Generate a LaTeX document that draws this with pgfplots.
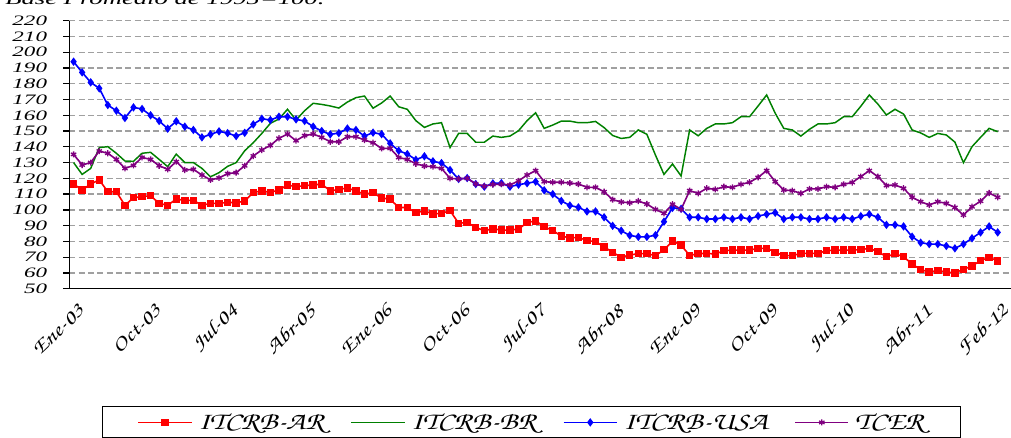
\documentclass[border=0pt]{standalone}
\usepackage{pgfplots}
\pgfplotsset{compat=1.18}
\usepackage{pgfplotstable}
\usepackage{fontspec}
\setmainfont{Liberation Serif}
\newfontfamily\numfont{Liberation Serif}[FakeStretch=1.6]
\newfontfamily\scrfont{texgyrechorus}[Extension=.otf, UprightFont=*-mediumitalic, FakeStretch=1.25]
\definecolor{arred}{RGB}{255,0,0}
\definecolor{brgreen}{RGB}{0,128,0}
\definecolor{usablue}{RGB}{0,0,255}
\definecolor{tcerpurple}{RGB}{128,0,128}
\definecolor{gridgray}{RGB}{160,160,160}

\pgfplotstableread{
i ar br usa tcer
0 116.4 130 194 135.2
1 112.6 122.5 187.2 128.5
2 116.4 126.3 180.9 130
3 119 139.5 177.1 137.3
4 111.5 140.1 166.5 135.9
5 111.5 135.9 162.9 132
6 102.9 131 158.3 126.3
7 107.7 130.8 165 128.2
8 108.4 135.9 164 133.3
9 109 136.5 160 132
10 104.1 132 156.4 128
11 102.9 127.4 151.5 125.7
12 106.9 135.4 156.2 130.6
13 106 130 152.8 125.3
14 106 130 150.7 125.7
15 102.9 126.3 146 122.1
16 104.1 121 147.9 119
17 104.1 123.6 149.8 120.3
18 104.8 127.6 148.7 123
19 104.5 130 146.8 123.6
20 105.6 137.5 148.9 128
21 111.1 142.6 154.2 134.2
22 112 148.5 157.8 138
23 111.1 154.9 157 140.9
24 112.6 157.6 159.1 145.4
25 115.8 163.8 159.1 148.1
26 114.7 157 157.4 143.9
27 115.4 162.9 156.4 147.1
28 115.8 167.6 152.8 148.1
29 116.4 166.9 150 146
30 112 165.9 147.9 143.2
31 113 164.6 148.7 143.2
32 113.9 168.4 151.6 146.4
33 112 171.2 150.7 146.4
34 110 172.2 146.8 144.3
35 110.9 164.5 149 142.6
36 107.5 167.8 148 139
37 106.8 172.2 142.2 139
38 101.5 165.4 137.5 133.2
39 101.5 163.8 135.4 132
40 98.2 156.6 131.8 129.3
41 99.4 152.3 134 127.8
42 97.4 154.5 130.8 127.4
43 97.8 155.3 129.7 126.3
44 99.5 139.5 125.3 120
45 91.5 148.5 119.6 119.6
46 92 148.5 120.2 120
47 88.9 142.9 116.4 116.5
48 86.8 142.9 114.7 115
49 88 146.8 116.8 116.1
50 87.2 146 117 116.3
51 87.2 146.8 114.7 115.8
52 87.8 150.2 116 118.4
53 92 156.6 116.9 122.1
54 93 161.6 117.9 124.9
55 89.3 151.7 112.4 117.9
56 86.9 153.8 110 117.5
57 83.4 156.3 105.7 117.5
58 82.2 156.3 102.8 117
59 82.6 155.3 101.6 116.4
60 80.5 155.3 99 114.3
61 79.9 156.1 99 114.3
62 76.5 152.2 95.3 111.5
63 73.1 147.2 89.9 106.5
64 69.9 145.3 86.8 105
65 71.4 146 83.8 104.5
66 72.2 150.7 82.9 105.6
67 72.2 147.9 82.9 103.7
68 71 134.8 83.9 100.3
69 74.7 122.5 92.5 97.8
70 80.2 129.1 101.3 103.6
71 77.7 121.5 100.7 100.3
72 71 150.7 95.3 112.2
73 72.3 147 95.3 110.5
74 72.4 151.7 94.2 113.7
75 72 154.5 94.2 113
76 74.1 154.5 95.3 114.7
77 74.5 155.3 94.2 114.3
78 74.5 159.1 95.3 116.2
79 74.5 159.1 94.2 117.5
80 75.6 165.9 96.1 120.6
81 75.6 172.9 97.2 124.9
82 73.1 161.3 98.2 117.9
83 71 151.7 94.2 112.6
84 71 150.7 95.3 112.2
85 72.4 146.8 95.3 110.5
86 72.4 151.1 94.2 113.3
87 72.4 154.5 94.2 113.3
88 74.1 154.5 95.3 114.7
89 74.5 155.3 94.2 114.3
90 74.5 159.1 95.3 116.2
91 74.5 159.1 94.2 117.4
92 74.8 165.7 96 121.1
93 75.6 172.9 97.2 124.9
94 73.5 167.1 95.3 121.1
95 70.3 160.2 90.5 115.4
96 72.2 163.8 90.5 115.8
97 70.3 160.8 89.5 113.7
98 65.6 150.7 83 108
99 62.1 148.8 79.2 105.2
100 60.6 146 78.3 103.1
101 61.5 148.5 78.3 105.2
102 60.6 147.5 77.1 104.1
103 60 143 75.6 101.5
104 62.3 129.9 78.3 96.7
105 64.4 140.1 82 102
106 67.8 146 85.7 105.5
107 69.8 151.7 89.5 110.7
108 67.7 149.6 85.7 108
}\datatable

\begin{document}
\begin{tikzpicture}
\node[anchor=base west, inner sep=0pt, font=\numfont\itshape\fontsize{12.5}{14}\selectfont] at (3.75pt,324pt) {Base Promedio de 1995=100.};
\begin{axis}[
  at={(51.98pt,111.23pt)}, anchor=south west,
  scale only axis, width=705.9pt, height=201pt,
  xmin=-0.5, xmax=109.5, ymin=50, ymax=220,
  axis x line*=bottom, axis y line*=left,
  axis line style={black, line width=1.2pt},
  tick align=outside, major tick length=4.5pt, minor tick length=4.5pt,
  tick style={black, line width=1pt},
  ytick={50,60,...,220},
  ymajorgrids,
  grid style={gridgray, line width=1pt, dash pattern=on 4.5pt off 2.5pt},
  yticklabel style={font=\numfont\itshape\fontsize{10.8}{12}\selectfont, /pgf/number format/assume math mode=true, anchor=east, inner sep=0pt, xshift=-12pt},
  xtick={0,9,...,99,108},
  xticklabels={Ene-03,Oct-03,Jul-04,Abr-05,Ene-06,Oct-06,Jul-07,Abr-08,Ene-09,Oct-09,Jul-10,Abr-11,Feb-12},
  xtick style={draw=none},
  minor xtick={-0.5,4.5,...,109.5},
  minor x tick style={black, line width=1pt},
  xticklabel style={font=\scrfont\fontsize{15}{17}\selectfont, rotate=44, anchor=east, inner sep=0pt, xshift=-2.25pt, yshift=-11.5pt},
  legend columns=4,
  legend style={at={(0.03474,-0.4377)}, anchor=north west, draw=black, line width=1.1pt,
    font=\scrfont\fontsize{18.5}{20}\selectfont, inner xsep=26pt, inner ysep=3pt,
    /tikz/every even column/.append style={column sep=18pt},
    /tikz/every odd column/.append style={column sep=2.25pt}},
  legend image code/.code={\draw[mark repeat=2,mark phase=2,#1] plot coordinates {(0pt,0pt) (20pt,0pt) (40pt,0pt)};},
]
\addplot[arred, line width=1.2pt, mark=square*, mark size=2.2pt, mark options={solid}] table[x=i, y=ar] {\datatable};
\addlegendentry{ITCRB-AR}
\addplot[brgreen, line width=1.1pt, no marks] table[x=i, y=br] {\datatable};
\addlegendentry{ITCRB-BR}
\addplot[usablue, line width=1.2pt, mark=diamond*, mark size=2.2pt, mark options={solid}] table[x=i, y=usa] {\datatable};
\addlegendentry{ITCRB-USA}
\addplot[tcerpurple, line width=1.2pt, mark=asterisk, mark size=2.3pt, mark options={solid, line width=1pt}] table[x=i, y=tcer] {\datatable};
\addlegendentry{TCER}
\end{axis}
\pgfresetboundingbox
\path[use as bounding box] (0,0) rectangle (758.25pt,327.75pt);
\end{tikzpicture}
\end{document}
